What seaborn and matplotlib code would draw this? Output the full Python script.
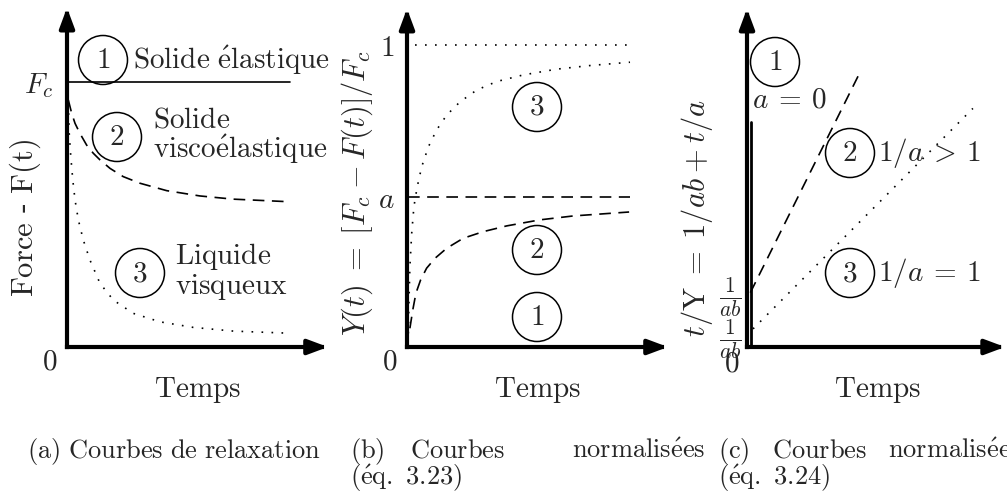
import matplotlib
matplotlib.use('Agg')
import matplotlib.pyplot as plt
import seaborn as sns

# (a) relaxation curves: time vs force / Fc
t_elast = [0, 10]
f_elast = [1, 1]
t_visco = [0.06, 0.21, 0.36, 0.58, 0.88, 1.18, 1.48, 1.93, 2.52, 3.27, 4.47, 5.96, 7.44, 10.0]
f_visco = [0.932, 0.882, 0.844, 0.806, 0.762, 0.731, 0.706, 0.674, 0.643, 0.618, 0.590, 0.570, 0.558, 0.548]
t_liq = [0.06, 0.10, 0.17, 0.26, 0.36, 0.51, 0.73, 1.03, 1.48, 2.08, 2.97, 4.17, 5.66, 7.46, 10.0]
f_liq = [0.920, 0.806, 0.718, 0.630, 0.555, 0.479, 0.404, 0.328, 0.240, 0.177, 0.127, 0.095, 0.074, 0.060, 0.052]

# (b) normalised curves Y(t)
t_one = [0.36, 10]
y_one = [1.0, 1.0]
t_liq_b = [0.06, 0.09, 0.13, 0.21, 0.31, 0.46, 0.66, 0.96, 1.33, 1.78, 2.38, 3.13, 4.02, 5.22, 6.71, 8.21, 10.0]
y_liq_b = [0.045, 0.156, 0.266, 0.376, 0.465, 0.531, 0.597, 0.663, 0.719, 0.768, 0.812, 0.851, 0.879, 0.901, 0.920, 0.932, 0.943]
a_level = 0.498
t_a = [0.05, 10]
y_a = [a_level, a_level]
t_visco_b = [0.13, 0.26, 0.40, 0.61, 0.88, 1.26, 1.78, 2.52, 3.42, 4.47, 5.96, 7.46, 9.96]
y_visco_b = [0.062, 0.123, 0.178, 0.222, 0.261, 0.294, 0.327, 0.360, 0.382, 0.401, 0.421, 0.434, 0.447]

# (c) linearised curves t/Y
t_elast_c = [0.18, 0.18]
v_elast_c = [0.0, 0.745]
t_visco_c = [0.15, 5.07]
v_visco_c = [0.18, 0.91]
t_liq_c = [0.27, 10.13]
v_liq_c = [0.06, 0.79]
ab_ticks = [0.05, 0.189]

sns.set_style('white')
plt.rcParams['mathtext.fontset'] = 'cm'
plt.rcParams['font.family'] = ['DejaVu Serif']

W, H = 1007, 503
fig = plt.figure(figsize=(W / 100, H / 100), dpi=100)

FS = 21
YL = 22
DASH = (0, (7, 4.5))
DOT = (0, (1, 5))


def rm(s):
    s = s.replace(' ', r'\ ').replace('é', r'\acute{e}')
    return r'$\mathrm{' + s + '}$'


def px_text(x, y, s, size=FS, ha='left', va='center', **kw):
    fig.text(x / W, 1 - y / H, s, fontsize=size, ha=ha, va=va, **kw)


def circled(x, y, n):
    px_text(x, y, rm(n), ha='center',
            bbox=dict(boxstyle='circle,pad=0.36', fc='none', ec='black', lw=1.1))


def make_axes(x0, y0, sx, sy, xtip, ytip):
    xmax, ymax = xtip + 0.3, ytip + 0.03
    ax = fig.add_axes([x0 / W, 1 - y0 / H, xmax * sx / W, ymax * sy / H])
    ax.set_xlim(0, xmax)
    ax.set_ylim(0, ymax)
    for sp in ax.spines.values():
        sp.set_visible(False)
    ax.set_xticks([])
    ax.patch.set_alpha(0)
    arrow = dict(arrowstyle='-|>,head_length=0.75,head_width=0.28', lw=3, color='black',
                 mutation_scale=16, shrinkA=0, shrinkB=0, capstyle='projecting')
    ax.annotate('', xy=(xtip, 0), xytext=(0, 0), arrowprops=arrow)
    ax.annotate('', xy=(0, ytip), xytext=(0, 0), arrowprops=arrow)
    return ax


def curve(ax, x, y, ls='-', lw=1.2):
    sns.lineplot(x=x, y=y, ax=ax, color='black', lw=lw, linestyle=ls,
                 estimator=None, sort=False)


# ---- panel (a)
ax1 = make_axes(67, 347, 22.3, 265, 11.7, 1.28)
curve(ax1, t_elast, f_elast)
curve(ax1, t_visco, f_visco, DASH)
curve(ax1, t_liq, f_liq, DOT)
ax1.set_yticks([1])
ax1.set_yticklabels(['$F_c$'])
ax1.tick_params(axis='y', length=0, pad=10, labelsize=FS)
circled(103, 60, '1')
px_text(133, 60, rm('Solide élastique'))
circled(117, 137, '2')
px_text(153, 120, rm('Solide'))
px_text(153, 149, rm('viscoélastique'))
circled(140, 273, '3')
px_text(175, 257, rm('Liquide'))
px_text(175, 287, rm('visqueux'))
px_text(50, 362, rm('0'), ha='center')
px_text(197, 390, rm('Temps'), ha='center')
px_text(25, 218, rm('Force') + ' - ' + rm('F(t)'), size=YL, ha='center', rotation=90)

# ---- panel (b)
ax2 = make_axes(407, 347, 22.3, 302, 11.7, 1.12)
curve(ax2, t_one, y_one, DOT)
curve(ax2, t_liq_b, y_liq_b, DOT)
curve(ax2, t_a, y_a, DASH)
curve(ax2, t_visco_b, y_visco_b, DASH)
ax2.set_yticks([a_level, 1])
ax2.set_yticklabels(['$a$', rm('1')])
ax2.tick_params(axis='y', length=0, pad=9, labelsize=FS)
circled(537, 107, '3')
circled(537, 250, '2')
circled(537, 317, '1')
px_text(390, 362, rm('0'), ha='center')
px_text(537, 390, rm('Temps'), ha='center')
px_text(357, 193, r'$Y(t)\;=\;[F_c\:-\:F(t)]/F_c$', size=YL, ha='center', rotation=90)

# ---- panel (c)
ax3 = make_axes(747, 347, 22.3, 302, 11.57, 1.12)
curve(ax3, t_elast_c, v_elast_c, '-', 2.0)
curve(ax3, t_visco_c, v_visco_c, DASH)
curve(ax3, t_liq_c, v_liq_c, DOT)
ax3.set_yticks(ab_ticks)
ax3.set_yticklabels([r'$\frac{1}{ab}$', r'$\frac{1}{ab}$'])
ax3.tick_params(axis='y', length=0, pad=4, labelsize=22)
circled(775, 62, '1')
px_text(790, 100, r'$a\:=\:0$', ha='center')
circled(850, 153, '2')
px_text(878, 153, r'$1/a\:>\:1$')
circled(850, 273, '3')
px_text(878, 273, r'$1/a\:=\:1$')
px_text(732, 363, rm('0'), ha='center')
px_text(877, 390, rm('Temps'), ha='center')
px_text(697, 218, r'$t/\mathrm{Y}\;=\;1/ab\:+\:t/a$', size=YL, ha='center', rotation=90)

# ---- captions
CS = 19
L1, L2 = 458, 485
px_text(27, L1, rm('(a) Courbes de relaxation'), size=CS, va='baseline')
px_text(350, L1, rm('(b)'), size=CS, va='baseline')
px_text(410, L1, rm('Courbes'), size=CS, va='baseline')
px_text(705, L1, rm('normalisées'), size=CS, ha='right', va='baseline')
px_text(350, L2, rm('(éq. 3.23)'), size=CS, va='baseline')
px_text(718, L1, rm('(c)'), size=CS, va='baseline')
px_text(772, L1, rm('Courbes'), size=CS, va='baseline')
px_text(888, L1, rm('normalisées'), size=CS, va='baseline')
px_text(718, L2, rm('(éq. 3.24)'), size=CS, va='baseline')

fig.savefig('out.png', dpi=100)
